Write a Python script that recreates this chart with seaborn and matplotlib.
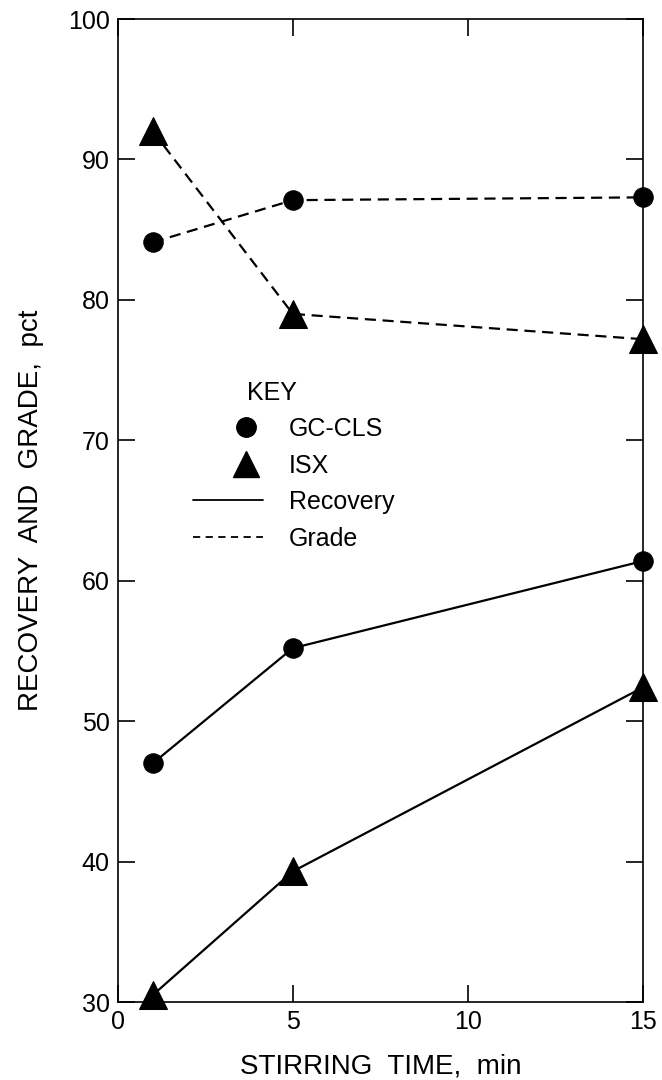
import matplotlib
matplotlib.use("Agg")
import matplotlib.pyplot as plt
from matplotlib.lines import Line2D
from matplotlib.legend_handler import HandlerLine2D
import seaborn as sns
import pandas as pd

# Stirring time, min
stir_time = [1, 5, 15]

# Recovery and grade, pct
gccls_grade = [84.1, 87.1, 87.3]
isx_grade = [92.0, 79.0, 77.2]
gccls_recovery = [47.0, 55.2, 61.4]
isx_recovery = [30.5, 39.3, 52.4]

x_ticks = [0, 5, 10, 15]
y_ticks = [30, 40, 50, 60, 70, 80, 90, 100]

sns.set_theme(style="ticks")
plt.rcParams["font.family"] = ["Liberation Sans", "DejaVu Sans"]
plt.rcParams.update({"text.color": "black", "axes.labelcolor": "black",
                     "xtick.color": "black", "ytick.color": "black"})

fig = plt.figure(figsize=(6.62, 10.8), dpi=100)
ax = fig.add_axes([0.178, 0.0722, 0.793, 0.9102])

GRADE_DASH = (5, 3)
series = [
    (gccls_grade, "o", GRADE_DASH, 14),
    (isx_grade, "^", GRADE_DASH, 20),
    (gccls_recovery, "o", None, 14),
    (isx_recovery, "^", None, 20),
]
for values, mk, dash, ms in series:
    df = pd.DataFrame({"t": stir_time, "v": values})
    sns.lineplot(data=df, x="t", y="v", ax=ax, color="black", lw=1.6,
                 marker=mk, markersize=ms, markeredgecolor="black",
                 clip_on=False, zorder=3)
    line = ax.lines[-1]
    if dash:
        line.set_dashes(dash)
    else:
        line.set_linestyle("-")

ax.set_xlim(0, 15)
ax.set_ylim(30, 100)
ax.set_xticks(x_ticks)
ax.set_yticks(y_ticks)
ax.tick_params(axis="both", direction="in", length=12, width=1.2,
               top=True, right=True, labelsize=18, pad=6)
for s in ax.spines.values():
    s.set_linewidth(1.2)
    s.set_color("black")
ax.set_xlabel("STIRRING  TIME,  min", fontsize=20, labelpad=14)
ax.set_ylabel("RECOVERY  AND  GRADE,  pct", fontsize=20, labelpad=17)


class OffsetMarkerHandler(HandlerLine2D):
    """Places the single legend marker toward the right end of the handle."""

    def get_xdata(self, legend, xdescent, ydescent, width, height, fontsize):
        centre = -xdescent + 0.76 * width
        xdata = [centre - 1, centre + 1]
        return xdata, xdata


handles = [
    Line2D([], [], ls="", marker="o", color="black", markersize=14),
    Line2D([], [], ls="", marker="^", color="black", markersize=19),
    Line2D([], [], ls="-", color="black", lw=1.3),
    Line2D([], [], ls=(0, (4, 3)), color="black", lw=1.3),
]
labels = ["GC-CLS", "ISX", "Recovery", "Grade"]
leg = ax.legend(handles, labels, title="KEY", frameon=False, fontsize=18,
                title_fontsize=18, handlelength=2.8, handletextpad=1.05,
                labelspacing=0.5, loc="upper left",
                bbox_to_anchor=(0.1, 0.655),
                handler_map={handles[0]: OffsetMarkerHandler(),
                             handles[1]: OffsetMarkerHandler()})
leg.get_title().set_position((-22, 0))

fig.savefig("out.png", dpi=100)
